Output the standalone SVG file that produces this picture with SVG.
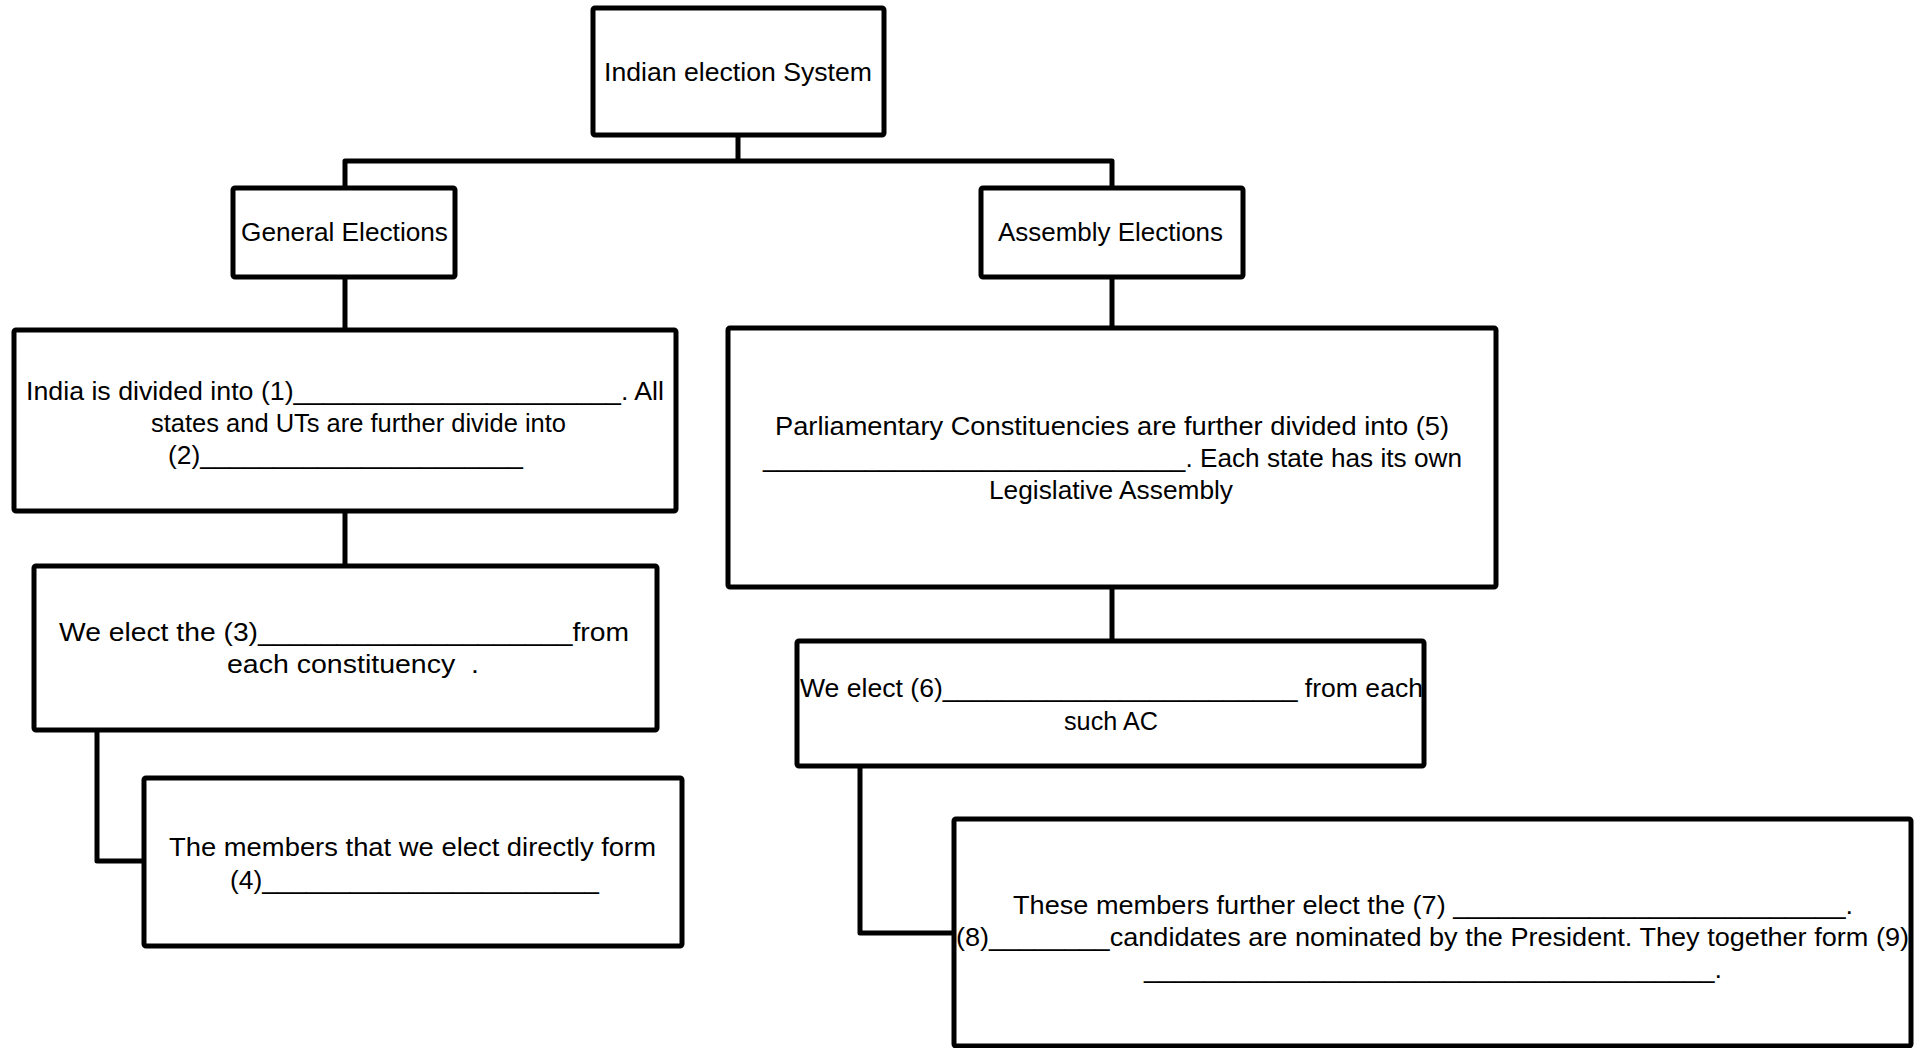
<svg xmlns="http://www.w3.org/2000/svg" width="1920" height="1048" viewBox="0 0 1920 1048">
<style>
.box{fill:#fff;stroke:#000;stroke-width:5;stroke-linejoin:round}
.con{fill:none;stroke:#000;stroke-width:5;stroke-linejoin:round}
text{font-family:"Liberation Sans",Arial,sans-serif;font-size:26px;fill:#000}
</style>
<rect width="1920" height="1048" fill="#fff"/>
<g id="connectors">
<path class="con" d="M738 135V161M345 188V161H1112V188"/>
<path class="con" d="M345 277V330"/>
<path class="con" d="M345 511V566"/>
<path class="con" d="M97 730V861H144"/>
<path class="con" d="M1112 277V328"/>
<path class="con" d="M1112 587V641"/>
<path class="con" d="M860 766V933H954"/>
</g>
<g id="root">
<rect class="box" x="593" y="8" width="291" height="127" rx="2"/>
<text x="604" y="81" textLength="268" lengthAdjust="spacingAndGlyphs">Indian election System</text>
</g>
<g id="general">
<rect class="box" x="233" y="188" width="222" height="89" rx="2"/>
<text x="241" y="241" textLength="207" lengthAdjust="spacingAndGlyphs">General Elections</text>
</g>
<g id="assembly">
<rect class="box" x="981" y="188" width="262" height="89" rx="2"/>
<text x="998" y="241" textLength="225" lengthAdjust="spacingAndGlyphs">Assembly Elections</text>
</g>
<g id="box1">
<rect class="box" x="14" y="330" width="662" height="181" rx="2"/>
<text x="26" y="400" textLength="638" lengthAdjust="spacingAndGlyphs">India is divided into (1)______________________. All</text>
<text x="151" y="432" textLength="415" lengthAdjust="spacingAndGlyphs">states and UTs are further divide into</text>
<text x="168" y="464" textLength="355" lengthAdjust="spacingAndGlyphs">(2)______________________</text>
</g>
<g id="box3">
<rect class="box" x="34" y="566" width="623" height="164" rx="2"/>
<text x="59" y="641" textLength="570" lengthAdjust="spacingAndGlyphs">We elect the (3)____________________from</text>
<text x="227" y="673" textLength="252" lengthAdjust="spacingAndGlyphs" xml:space="preserve">each constituency  .</text>
</g>
<g id="box4">
<rect class="box" x="144" y="778" width="538" height="168" rx="2"/>
<text x="169" y="856" textLength="487" lengthAdjust="spacingAndGlyphs">The members that we elect directly form</text>
<text x="230" y="889" textLength="369" lengthAdjust="spacingAndGlyphs">(4)_______________________</text>
</g>
<g id="box5">
<rect class="box" x="728" y="328" width="768" height="259" rx="2"/>
<text x="775" y="435" textLength="674" lengthAdjust="spacingAndGlyphs">Parliamentary Constituencies are further divided into (5)</text>
<text x="763" y="467" textLength="699" lengthAdjust="spacingAndGlyphs">_____________________________. Each state has its own</text>
<text x="989" y="499" textLength="244" lengthAdjust="spacingAndGlyphs">Legislative Assembly</text>
</g>
<g id="box6">
<rect class="box" x="797" y="641" width="627" height="125" rx="2"/>
<text x="800" y="697" textLength="623" lengthAdjust="spacingAndGlyphs">We elect (6)________________________ from each</text>
<text x="1064" y="730" textLength="94" lengthAdjust="spacingAndGlyphs">such AC</text>
</g>
<g id="box7">
<rect class="box" x="954" y="819" width="957" height="227" rx="2"/>
<text x="1013" y="914" textLength="840" lengthAdjust="spacingAndGlyphs">These members further elect the (7) __________________________.</text>
<text x="956" y="946" textLength="953" lengthAdjust="spacingAndGlyphs">(8)________candidates are nominated by the President. They together form (9)</text>
<text x="1144" y="978" textLength="578" lengthAdjust="spacingAndGlyphs">______________________________________.</text>
</g>
</svg>
